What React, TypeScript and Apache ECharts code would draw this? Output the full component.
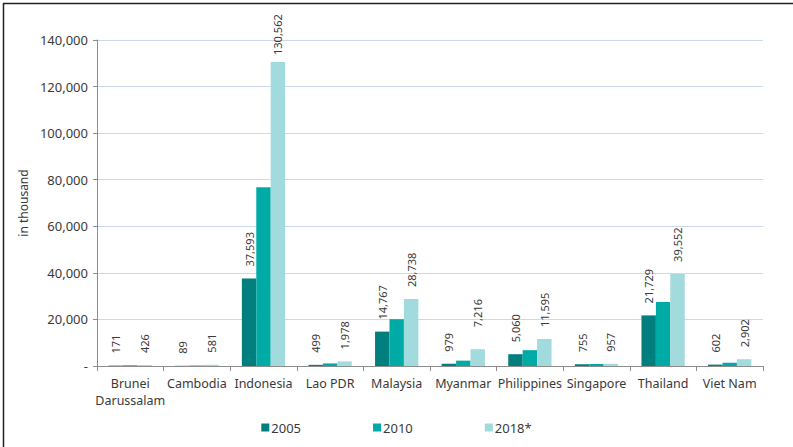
import React, { useEffect, useRef } from "react";
import * as echarts from "echarts";

const categories = [
  "Brunei\nDarussalam",
  "Cambodia",
  "Indonesia",
  "Lao PDR",
  "Malaysia",
  "Myanmar",
  "Philippines",
  "Singapore",
  "Thailand",
  "Viet Nam",
];
const seriesNames = ["2005", "2010", "2018*"];
const v2005 = [171, 89, 37593, 499, 14767, 979, 5060, 755, 21729, 602];
const v2010 = [300, 200, 76800, 1100, 20100, 2300, 6800, 850, 27500, 1400];
const v2018 = [426, 581, 130562, 1978, 28738, 7216, 11595, 957, 39552, 2902];

const colors = ["#007F7E", "#00AAA5", "#A2DBDD"];
const FONT = "Noto Sans";
const TXT = "#3a3a3a";

export default function App() {
  const ref = useRef<HTMLDivElement>(null);
  useEffect(() => {
    if (!ref.current) return;
    const chart = echarts.init(ref.current, undefined, { renderer: "svg" });
    const fmt = (v: number) => v.toLocaleString("en-US");
    const labelBase = {
      show: true,
      position: "top",
      rotate: 90,
      align: "left",
      verticalAlign: "middle",
      distance: 12,
      color: TXT,
      fontFamily: FONT,
      fontSize: 11,
      formatter: (p: any) => fmt(p.value),
    };
    const distOverride: Record<number, number> = { 2: 7, 5: 22 };
    const d2018 = v2018.map((v, i) =>
      distOverride[i] !== undefined ? { value: v, label: { distance: distOverride[i] } } : v
    );
    const option: any = {
      animation: false,
      color: colors,
      textStyle: { fontFamily: FONT },
      grid: { left: 97, right: 30, top: 40, bottom: 81 },
      graphic: [
        { type: "line", shape: { x1: 3, y1: 3.5, x2: 793, y2: 3.5 }, style: { stroke: "#222", lineWidth: 1.5 } },
        { type: "line", shape: { x1: 3.5, y1: 3, x2: 3.5, y2: 447 }, style: { stroke: "#222", lineWidth: 1.5 } },
      ],
      legend: {
        bottom: 8,
        left: "center",
        itemWidth: 8,
        itemHeight: 8,
        itemGap: 72,
        icon: "rect",
        textStyle: { color: TXT, fontFamily: FONT, fontSize: 13, padding: [0, 0, 0, -3] },
        data: seriesNames,
      },
      xAxis: {
        type: "category",
        data: categories,
        axisLine: { lineStyle: { color: "#8c8c8c", width: 1 } },
        axisTick: { show: true, alignWithLabel: false, length: 5, lineStyle: { color: "#8c8c8c" } },
        axisLabel: { interval: 0, color: TXT, fontFamily: FONT, fontSize: 12.5, margin: 9, lineHeight: 17 },
      },
      yAxis: {
        type: "value",
        min: 0,
        max: 140000,
        interval: 20000,
        name: "in thousand",
        nameLocation: "middle",
        nameGap: 67,
        nameTextStyle: { color: TXT, fontFamily: FONT, fontSize: 12 },
        axisLine: { show: true, lineStyle: { color: "#8c8c8c" } },
        axisTick: { show: true, length: 4, lineStyle: { color: "#8c8c8c" } },
        splitLine: { lineStyle: { color: "#C9DAF0", width: 1 } },
        axisLabel: {
          color: TXT,
          fontFamily: FONT,
          fontSize: 13,
          margin: 9,
          formatter: (v: number) => (v === 0 ? "-" : fmt(v)),
        },
      },
      series: [
        { name: seriesNames[0], type: "bar", data: v2005, barGap: "0%", barCategoryGap: "35%", label: labelBase },
        { name: seriesNames[1], type: "bar", data: v2010, barGap: "0%", barCategoryGap: "35%", label: { show: false } },
        { name: seriesNames[2], type: "bar", data: d2018, barGap: "0%", barCategoryGap: "35%", label: labelBase },
      ],
    };
    chart.setOption(option);
    return () => chart.dispose();
  }, []);
  return (
    <div
      ref={ref}
      style={{ position: "fixed", left: 0, top: 0, width: 793, height: 447, background: "#fff" }}
    />
  );
}
